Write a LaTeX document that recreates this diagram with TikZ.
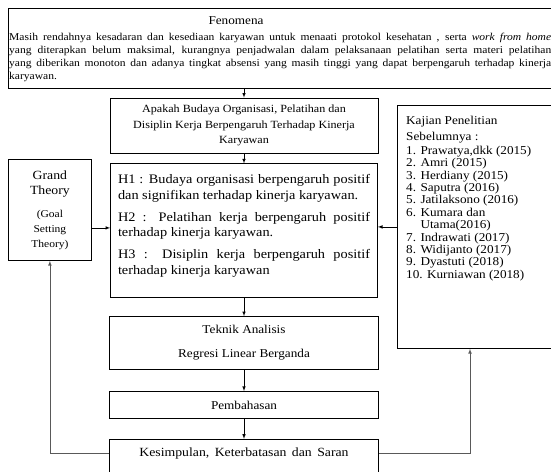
\documentclass[tikz,border=0pt]{standalone}
\usepackage{fontspec}
\setmainfont[FakeStretch=1.1]{Liberation Serif}
\usetikzlibrary{shapes,positioning,arrows}

\begin{document}
\begin{tikzpicture}[x=1pt, y=-1pt,
    box/.style={rectangle, draw=black, line width=0.8pt, inner sep=0pt},
    textblock/.style={inner sep=0pt},
    arrow/.style={-latex, black, line width=0.6pt},
    feedback/.style={-latex, black!65, line width=0.7pt},
    node distance=10pt
]
\useasboundingbox (0,0) rectangle (551,471);
\fill[white] (0,0) rectangle (551,471);

\node[box, anchor=north west, minimum width=552pt, minimum height=80pt] (fenomena) at (8,8) {};
\node[textblock, font=\fontsize{12}{14}\selectfont] (fentitle) at (236,21) {Fenomena};
\node[textblock, anchor=north west, text width=542pt, align=justify, font=\fontsize{10.5}{13}\selectfont] (fentext) at (9,33) {Masih rendahnya kesadaran dan kesediaan karyawan untuk menaati protokol kesehatan , serta \textit{work from home}\linebreak yang diterapkan belum maksimal, kurangnya penjadwalan dalam pelaksanaan pelatihan serta materi pelatihan\linebreak yang diberikan monoton dan adanya tingkat absensi yang masih tinggi yang dapat berpengaruh terhadap kinerja\linebreak karyawan.};

\node[box, minimum width=268pt, minimum height=55pt, align=center, font=\fontsize{11}{15.5}\selectfont] (apakah) at (244,125.5) {Apakah Budaya Organisasi, Pelatihan dan\\Disiplin  Kerja Berpengaruh Terhadap Kinerja\\Karyawan};

\node[box, minimum width=267pt, minimum height=134pt, below=10pt of apakah] (hipotesis) {};
\node[textblock, anchor=north, text width=252pt, align=justify, font=\fontsize{13}{15.5}\selectfont] (hiptext) at ([yshift=-11pt]hipotesis.north) {H1 : Budaya organisasi berpengaruh positif\linebreak dan signifikan terhadap kinerja karyawan.\\[6.5pt]H2 : Pelatihan kerja berpengaruh positif\linebreak terhadap kinerja karyawan.\\[6.5pt]H3 : Disiplin kerja berpengaruh positif\linebreak terhadap kinerja karyawan};

\node[box, minimum width=269pt, minimum height=53pt, below=18pt of hipotesis, align=center, font=\fontsize{12}{24}\selectfont] (teknik) {Teknik Analisis\\Regresi Linear Berganda};
\node[box, minimum width=269pt, minimum height=27pt, below=21pt of teknik, font=\fontsize{12}{14}\selectfont] (pembahasan) {Pembahasan};
\node[box, minimum width=269pt, inner ysep=3pt, text height=14pt, text depth=34pt, below=20pt of pembahasan, font=\fontsize{12.5}{14}\selectfont] (kesimpulan) {Kesimpulan,\hspace{2pt} Keterbatasan\hspace{2pt} dan\hspace{2pt} Saran};

\node[box, anchor=north west, minimum width=83pt, minimum height=101pt, text width=80pt, align=center, font=\fontsize{12.5}{15}\selectfont] (grand) at (8,159) {Grand\\Theory\\[9pt]\fontsize{10.5}{14.5}\selectfont (Goal\\Setting\\Theory)};

\node[box, anchor=north west, minimum width=165pt, minimum height=243pt] (kajian) at (397,105) {};
\node[textblock, anchor=north west, align=left, font=\fontsize{12}{12.4}\selectfont] (kajtext) at ([xshift=9pt,yshift=-11pt]kajian.north west) {Kajian Penelitian\\[3.2pt]Sebelumnya :\\[1.8pt]1. Prawatya,dkk (2015)\\2. Amri (2015)\\3. Herdiany (2015)\\4. Saputra (2016)\\5. Jatilaksono (2016)\\6. Kumara dan\\\phantom{6. }Utama(2016)\\7. Indrawati (2017)\\8. Widijanto (2017)\\9. Dyastuti (2018)\\10. Kurniawan (2018)};

\draw[arrow] (fenomena.south -| apakah.north) -- (apakah.north);
\draw[arrow] (apakah) -- (hipotesis);
\draw[arrow] (hipotesis) -- (teknik);
\draw[arrow] (teknik) -- (pembahasan);
\draw[arrow] (pembahasan) -- (kesimpulan);
\draw[arrow] ([yshift=-18pt]grand.east) -- ([yshift=-18pt]grand.east -| hipotesis.west);
\draw[arrow] (kajian.west) -- (kajian.west -| hipotesis.east);
\draw[feedback] ([yshift=3pt]kesimpulan.base west) -| (grand.south);
\draw[feedback] ([yshift=3pt]kesimpulan.base east) -| ([xshift=73pt]kajian.south west);

\end{tikzpicture}
\end{document}
